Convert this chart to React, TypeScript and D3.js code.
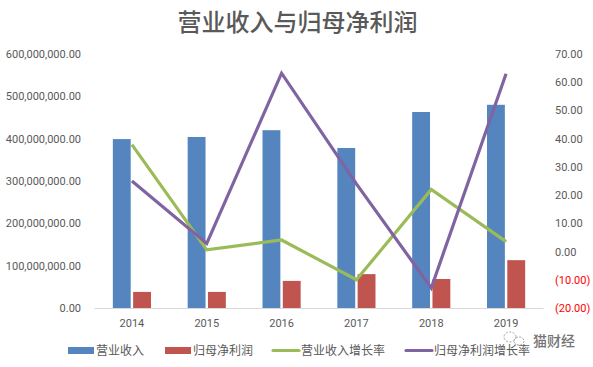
import React from "react";
import * as d3 from "d3";

const years = ["2014", "2015", "2016", "2017", "2018", "2019"];
const revenue = [399e6, 404e6, 420e6, 378e6, 463e6, 480e6];
const netProfit = [38e6, 38e6, 64e6, 80e6, 68.5e6, 113e6];
const revenueGrowth = [37.9, 0.6, 4.1, -10, 22, 3.5];
const profitGrowth = [25, 2.9, 63.2, 24, -12.9, 63];
const leftTicks = [0, 1e8, 2e8, 3e8, 4e8, 5e8, 6e8];
const rightTicks = [-20, -10, 0, 10, 20, 30, 40, 50, 60, 70];
const barSeries = ["营业收入", "归母净利润"];
const title = "营业收入与归母净利润";
const legendEntries = [
  { label: "营业收入", color: "#5585bf", kind: "bar", x: 68, tx: 96 },
  { label: "归母净利润", color: "#c0544f", kind: "bar", x: 165, tx: 193 },
  { label: "营业收入增长率", color: "#9bbb59", kind: "line", x: 273, tx: 301 },
  { label: "归母净利润增长率", color: "#8064a2", kind: "line", x: 406, tx: 434 },
];

const FONT = "Roboto, 'Open Sans', sans-serif";
const CJK = "'Noto Sans CJK SC', sans-serif";
const GRAY = "#595959";

export default function App() {
  const x0 = d3.scaleBand<string>().domain(years).range([94.5, 543.5]).paddingInner(0.49).paddingOuter(0.245);
  const x1 = d3.scaleBand<string>().domain(barSeries).range([0, x0.bandwidth()]).paddingInner(0.12);
  const yL = d3.scaleLinear().domain([0, 6e8]).range([308, 54]);
  const yR = d3.scaleLinear().domain([-20, 70]).range([308, 54]);
  const cx = (y: string) => x0(y)! + x0.bandwidth() / 2;
  const line = d3.line<number>().x((_, i) => cx(years[i])).y((d) => yR(d));
  const fmtL = d3.format(",.2f");
  const fmtR = (v: number) => (v < 0 ? `(${Math.abs(v).toFixed(2)})` : v.toFixed(2));

  return (
    <svg width={593} height={367} style={{ position: "fixed", left: 0, top: 0, background: "#fff" }}>
      <text x={297.5} y={31} textAnchor="middle" fontFamily={CJK} fontSize={24} fontWeight={500} fill={GRAY}>
        {title}
      </text>

      {leftTicks.map((t) => (
        <text key={t} x={81} y={yL(t) + 4} textAnchor="end" fontFamily={FONT} fontSize={11} fill={GRAY}>
          {fmtL(t)}
        </text>
      ))}
      {rightTicks.map((t) => (
        <text key={t} x={555} y={yR(t) + 4} fontFamily={FONT} fontSize={11} fill={t < 0 ? "#ff0000" : GRAY}>
          {fmtR(t)}
        </text>
      ))}

      {years.map((y, i) => (
        <g key={y}>
          <rect x={x0(y)! + x1(barSeries[0])!} y={yL(revenue[i])} width={x1.bandwidth()} height={yL(0) - yL(revenue[i])} fill="#5585bf" />
          <rect x={x0(y)! + x1(barSeries[1])!} y={yL(netProfit[i])} width={x1.bandwidth()} height={yL(0) - yL(netProfit[i])} fill="#c0544f" />
          <text x={cx(y)} y={327} textAnchor="middle" fontFamily={FONT} fontSize={11} fill={GRAY}>
            {y}
          </text>
        </g>
      ))}
      <line x1={94.5} x2={543.5} y1={308.5} y2={308.5} stroke="#d9d9d9" strokeWidth={1} />

      <path d={line(revenueGrowth)!} fill="none" stroke="#9bbb59" strokeWidth={3.2} strokeLinejoin="miter" />
      <path d={line(profitGrowth)!} fill="none" stroke="#8064a2" strokeWidth={3.2} strokeLinejoin="miter" />

      {legendEntries.map((e) => (
        <g key={e.label}>
          {e.kind === "bar" ? (
            <rect x={e.x} y={347} width={26} height={7} fill={e.color} />
          ) : (
            <line x1={e.x} x2={e.x + 26} y1={350.5} y2={350.5} stroke={e.color} strokeWidth={3.2} strokeLinecap="round" />
          )}
          <text x={e.tx} y={355} fontFamily={CJK} fontSize={12} fill={GRAY}>
            {e.label}
          </text>
        </g>
      ))}

      <g opacity={0.9}>
        <g fill="none" stroke="#9a9a9a" strokeWidth={1} strokeDasharray="2 1.5">
          <ellipse cx={510} cy={337} rx={6} ry={5} />
          <ellipse cx={519} cy={341} rx={5} ry={4} />
        </g>
        <text x={533} y={346} fontFamily={CJK} fontSize={14} fontWeight={500} fill="#666" stroke="#fff" strokeWidth={2} paintOrder="stroke">
          猫财经
        </text>
      </g>
    </svg>
  );
}
